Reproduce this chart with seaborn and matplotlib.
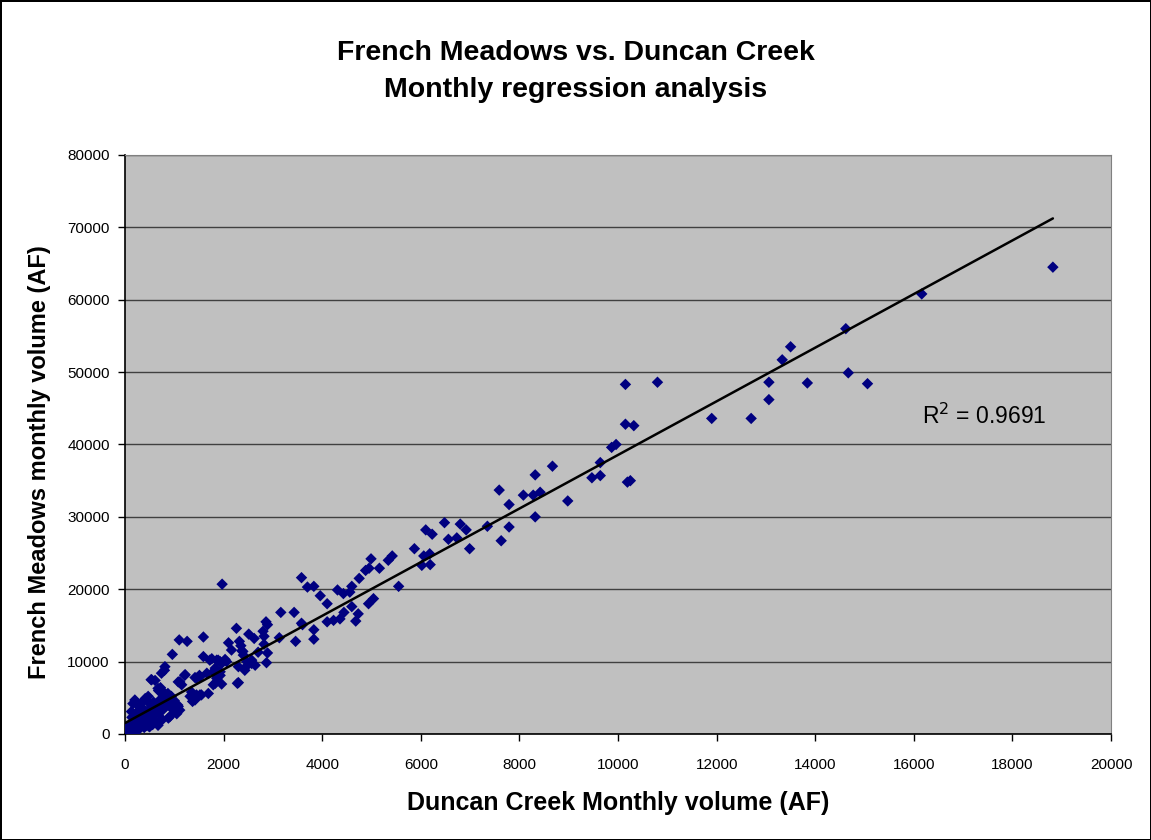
import numpy as np
import pandas as pd
import matplotlib
matplotlib.use('Agg')
import matplotlib.pyplot as plt
import seaborn as sns

# Monthly volumes (AF)
duncan_upper = [18820, 16160, 14620, 14670, 15060, 13840, 13500, 13330, 13060, 13060,
                12700, 11900, 10800, 10150, 10150, 10320, 9870, 9960, 9640, 9470,
                9640, 10190, 10250, 8670, 8320, 8080, 8280, 8420, 8980, 8320,
                7590, 7790, 7790, 7630, 7350, 6480, 6800, 6920, 6560, 6730,
                6990, 6100, 6230, 5870, 6060, 6180, 6020, 6190, 5550, 5420,
                5340, 5160, 4990, 4950, 4880, 4750, 4600, 4310, 4430, 4560,
                3960, 3700, 3830, 3580, 4100, 4600, 5040, 4940, 4440, 4730,
                4680, 4360, 4230, 4100, 3830, 3830, 3580, 3430, 3600, 3460]
french_upper = [64500, 60800, 56000, 49900, 48400, 48500, 53500, 51700, 48600, 46200,
                43600, 43600, 48600, 48300, 42800, 42600, 39600, 40000, 37500, 35400,
                35700, 34800, 35000, 37000, 35800, 33000, 33000, 33400, 32200, 30000,
                33700, 31700, 28600, 26700, 28700, 29200, 29000, 28200, 26900, 27100,
                25600, 28200, 27600, 25600, 24600, 24900, 23300, 23400, 20400, 24600,
                24000, 22900, 24200, 22900, 22600, 21500, 20400, 19900, 19400, 19600,
                19100, 20300, 20400, 21600, 18000, 17600, 18700, 18000, 16800, 16600,
                15600, 15900, 15700, 15500, 14400, 13100, 15300, 16800, 15100, 12800]

duncan_mid = [1970, 1100, 1260, 1590, 960, 2260, 2100, 2320, 2510, 2620,
              3160, 2860, 2890, 2800, 2820, 3130, 2890, 2870, 2700, 2160,
              2350, 2390, 2820, 2370, 2400, 2030, 1860, 1930, 1590, 1760,
              2280, 2570, 2640, 2470, 2470, 2570, 2300, 2430, 810, 800,
              540, 610, 1220, 1080, 1150, 1420, 1510, 1660, 1830, 1930,
              1790, 1690, 1520, 1420, 1320, 1370, 720, 680, 810, 880,
              470, 410, 200, 1080, 1050, 880, 680, 440, 910, 740,
              530, 670, 700, 870, 940, 430, 370, 160, 530, 630,
              1070, 1110, 130, 230, 330, 470, 600, 670, 500, 1720,
              1890, 1960, 2060, 1790, 1520, 1450, 1930, 1860, 1830, 1960,
              2300, 1350, 1450, 1550, 1210, 1110]
french_mid = [20700, 13000, 12800, 13400, 11000, 14600, 12600, 12800, 13800, 13200,
              16800, 15500, 15100, 14200, 13500, 13300, 11200, 9850, 11300, 11600,
              12200, 11400, 12400, 11500, 10900, 10300, 10200, 10000, 10700, 10400,
              7000, 10200, 9500, 9400, 10000, 9750, 9300, 8800, 9300, 8800,
              7500, 7400, 8200, 7200, 6800, 7800, 8100, 8400, 9100, 8600,
              6800, 5600, 5400, 4700, 5200, 4500, 6400, 6000, 5600, 5200,
              5200, 4900, 4700, 3800, 2800, 2200, 3800, 1200, 2400, 8400,
              7500, 6300, 6100, 5600, 5200, 4700, 4500, 4200, 4000, 3800,
              4000, 3300, 3100, 2600, 3300, 2400, 1900, 1200, 1000, 10200,
              10200, 9750, 10000, 8600, 7900, 7700, 8100, 7700, 7000, 6900,
              7100, 5800, 5400, 5400, 8100, 7200]

duncan_low = [10, 20, 30, 40, 50, 60, 70, 80, 90, 100,
              110, 120, 130, 140, 150, 160, 170, 180, 190, 200,
              210, 230, 250, 260, 280, 300, 320, 340, 360, 380,
              400, 420, 5, 15, 25, 35, 45, 55, 65, 75,
              85, 95, 0, 12, 22, 140, 240, 300, 350, 280,
              460, 520, 560, 600, 640, 700, 750, 780, 820, 850,
              900, 950, 1000, 720, 580, 500,
              8, 18, 28, 38, 48, 58, 68, 78, 88, 105,
              115, 125, 135, 160, 175, 190, 220, 240, 270, 310,
              330, 370, 410, 450, 540, 620,
              3, 14, 26, 42, 62, 83, 98, 145, 205, 265,
              290, 390, 480, 560, 680, 760]
french_low = [50, 200, 400, 150, 600, 300, 900, 500, 1200, 700,
              400, 1000, 1500, 800, 1300, 600, 1700, 1100, 2000, 1400,
              900, 1800, 1200, 2200, 1600, 2000, 1400, 2500, 1900, 2300,
              1700, 2800, 20, 100, 80, 300, 500, 250, 700, 350,
              150, 450, 0, 600, 900, 2300, 3000, 2800, 3600, 3800,
              3000, 2600, 3200, 2700, 3400, 2900, 3300, 4200, 3700, 4500,
              4100, 3500, 4600, 4800, 4400, 3500,
              10, 40, 120, 60, 200, 100, 350, 150, 250, 300,
              200, 450, 350, 500, 400, 700, 600, 800, 900, 1000,
              1100, 1200, 1300, 1500, 1600, 1800,
              0, 30, 60, 90, 120, 180, 220, 300, 450, 600,
              700, 900, 1100, 1300, 1700, 2000]

r2_label = 'R$^2$ = 0.9691'

df = pd.DataFrame({'duncan': duncan_upper + duncan_mid + duncan_low,
                   'french': french_upper + french_mid + french_low})

sns.set_style('white')
plt.rcParams['font.family'] = ['Liberation Sans', 'DejaVu Sans']
plt.rcParams['text.color'] = 'black'
plt.rcParams['axes.labelcolor'] = 'black'
plt.rcParams['xtick.color'] = 'black'
plt.rcParams['ytick.color'] = 'black'

fig = plt.figure(figsize=(11.51, 8.4), dpi=100)
fig.patch.set_edgecolor('black')
fig.patch.set_linewidth(2)
ax = fig.add_axes([0.1086, 0.1262, 0.8567, 0.6893])
ax.set_facecolor('#C0C0C0')

sns.scatterplot(data=df, x='duncan', y='french', ax=ax, marker='D', s=34,
                color='#000080', edgecolor='none', zorder=3)
sns.regplot(data=df, x='duncan', y='french', ax=ax, scatter=False, ci=None,
            line_kws={'color': 'black', 'lw': 1.8, 'zorder': 4})

ax.set_xlim(0, 20000)
ax.set_ylim(0, 80000)
ax.set_xticks(np.arange(0, 20001, 2000))
ax.set_yticks(np.arange(0, 80001, 10000))
ax.yaxis.grid(True, color='#404040', lw=1)
ax.xaxis.grid(False)
ax.set_axisbelow(True)
ax.tick_params(direction='out', length=5, width=1, color='black', labelsize=11, pad=6)
ax.tick_params(axis='x', pad=12)
ax.tick_params(bottom=True, left=True)
for side in ['top', 'right']:
    ax.spines[side].set_color('#808080')
for side in ['left', 'bottom']:
    ax.spines[side].set_color('black')
    ax.spines[side].set_linewidth(1.2)

ax.text(16170, 43900, r2_label, fontsize=16.5, va='center', ha='left')

ax.set_xlabel('Duncan Creek Monthly volume (AF)', fontsize=18, fontweight='bold', labelpad=14)
ax.set_ylabel('French Meadows monthly volume (AF)', fontsize=17, fontweight='bold')
ax.yaxis.set_label_coords(-0.075, 0.47)
fig.suptitle('French Meadows vs. Duncan Creek\nMonthly regression analysis',
             fontsize=20.5, fontweight='bold', y=0.952, linespacing=1.55)

fig.savefig('out.png', dpi=100, edgecolor=fig.get_edgecolor(), facecolor='white')
